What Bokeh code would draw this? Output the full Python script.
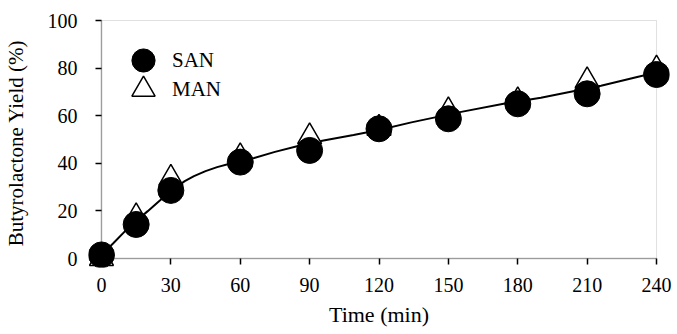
from bokeh.plotting import figure
from bokeh.models import Range1d, FixedTicker, BoxAnnotation, Legend, LegendItem
from bokeh.embed import file_html
from bokeh.resources import INLINE

# ---- data ----
time_min = [0, 15, 30, 60, 90, 120, 150, 180, 210, 240]
san_yield = [1.5, 14.3, 28.6, 40.5, 45.4, 54.5, 58.7, 65.0, 69.2, 77.3]
man_yield = [0.0, 17.6, 33.7, 42.8, 51.2, 54.7, 62.1, 66.3, 74.7, 79.6]

fit_time = [0, 5, 10, 15, 20, 25, 30, 36, 40, 45, 50, 55, 60, 66, 75, 85, 96,
            109, 120, 134, 155, 175, 190, 204, 216, 233, 240]
fit_yield = [1.5, 6.3, 11.3, 15.8, 19.9, 24.2, 28.3, 32.5, 34.6, 36.7, 38.4,
             39.7, 40.9, 42.2, 44.8, 47.3, 49.6, 51.9, 54.0, 57.2, 61.5, 65.2,
             67.5, 70.3, 72.6, 76.6, 78.2]

x_ticks = [0, 30, 60, 90, 120, 150, 180, 210, 240]
y_ticks = [0, 20, 40, 60, 80, 100]
X_MIN, X_MAX = 0, 240
Y_MIN, Y_MAX = 0, 100

FONT = "Liberation Serif"

# frame is padded beyond the data box so edge markers are not clipped
x_px = 556.0 / (X_MAX - X_MIN)
y_px = 238.0 / (Y_MAX - Y_MIN)
PAD_L, PAD_R, PAD_B, PAD_T = 13, 13, 9, 2
p = figure(width=677, height=334, output_backend="svg", toolbar_location=None,
           x_range=Range1d(X_MIN - PAD_L / x_px, X_MAX + PAD_R / x_px),
           y_range=Range1d(Y_MIN - PAD_B / y_px, Y_MAX + PAD_T / y_px),
           min_border_left=87, min_border_right=8, min_border_top=18,
           min_border_bottom=67)
p.outline_line_color = None
p.grid.visible = False
p.background_fill_color = "white"
p.border_fill_color = "white"

# plot box: gray top/right, black left/bottom
p.add_layout(BoxAnnotation(left=X_MIN, right=X_MAX, bottom=Y_MIN, top=Y_MAX,
                           fill_color=None, fill_alpha=0, line_color="#999999",
                           line_width=1, level="underlay"))
p.add_layout(BoxAnnotation(left=X_MIN, right=X_MAX, bottom=Y_MIN, top=Y_MIN,
                           fill_color=None, fill_alpha=0, line_color="black",
                           line_width=1.5, level="underlay"))
p.add_layout(BoxAnnotation(left=X_MIN, right=X_MIN, bottom=Y_MIN, top=Y_MAX,
                           fill_color=None, fill_alpha=0, line_color="black",
                           line_width=1.5, level="underlay"))

# axes (ticks pulled inside so they start on the data box edges)
xa = p.xaxis[0]
xa.ticker = FixedTicker(ticks=x_ticks)
xa.axis_line_color = None
xa.major_tick_in = PAD_B
xa.major_tick_out = -(PAD_B - 6)
xa.major_tick_line_width = 1.5
xa.minor_tick_line_color = None
xa.major_label_standoff = 10
xa.major_label_text_font = FONT
xa.major_label_text_font_size = "20px"
xa.major_label_text_color = "black"
xa.axis_label = "Time (min)"
xa.axis_label_text_font = FONT
xa.axis_label_text_font_size = "22px"
xa.axis_label_text_font_style = "normal"
xa.axis_label_text_color = "black"
xa.axis_label_standoff = 7

ya = p.yaxis[0]
ya.ticker = FixedTicker(ticks=y_ticks)
ya.axis_line_color = None
ya.major_tick_in = PAD_L
ya.major_tick_out = -(PAD_L - 6)
ya.major_tick_line_width = 1.5
ya.minor_tick_line_color = None
ya.major_label_standoff = 11
ya.major_label_text_font = FONT
ya.major_label_text_font_size = "20px"
ya.major_label_text_color = "black"
ya.axis_label = "Butyrolactone Yield (%)"
ya.axis_label_text_font = FONT
ya.axis_label_text_font_size = "21px"
ya.axis_label_text_font_style = "normal"
ya.axis_label_text_color = "black"
ya.axis_label_standoff = 17

# glyphs
p.line(fit_time, fit_yield, line_color="black", line_width=2)
r_man = p.scatter(time_min, man_yield, marker="triangle", size=24,
                  fill_color="white", line_color="black", line_width=1.5)
r_san = p.scatter(time_min, san_yield, marker="circle", size=26,
                  fill_color="black", line_color="black")

legend_style = dict(glyph_width=58, glyph_height=58, label_standoff=-3,
                    padding=0, margin=0, border_line_color=None,
                    background_fill_alpha=0, label_text_font=FONT,
                    label_text_font_size="21px", label_text_color="black")
p.add_layout(Legend(items=[LegendItem(label="SAN", renderers=[r_san])],
                    location=(26, 178), **legend_style))
p.add_layout(Legend(items=[LegendItem(label="MAN", renderers=[r_man])],
                    location=(26, 149), **legend_style))

open("out.html", "w").write(file_html(p, INLINE))
